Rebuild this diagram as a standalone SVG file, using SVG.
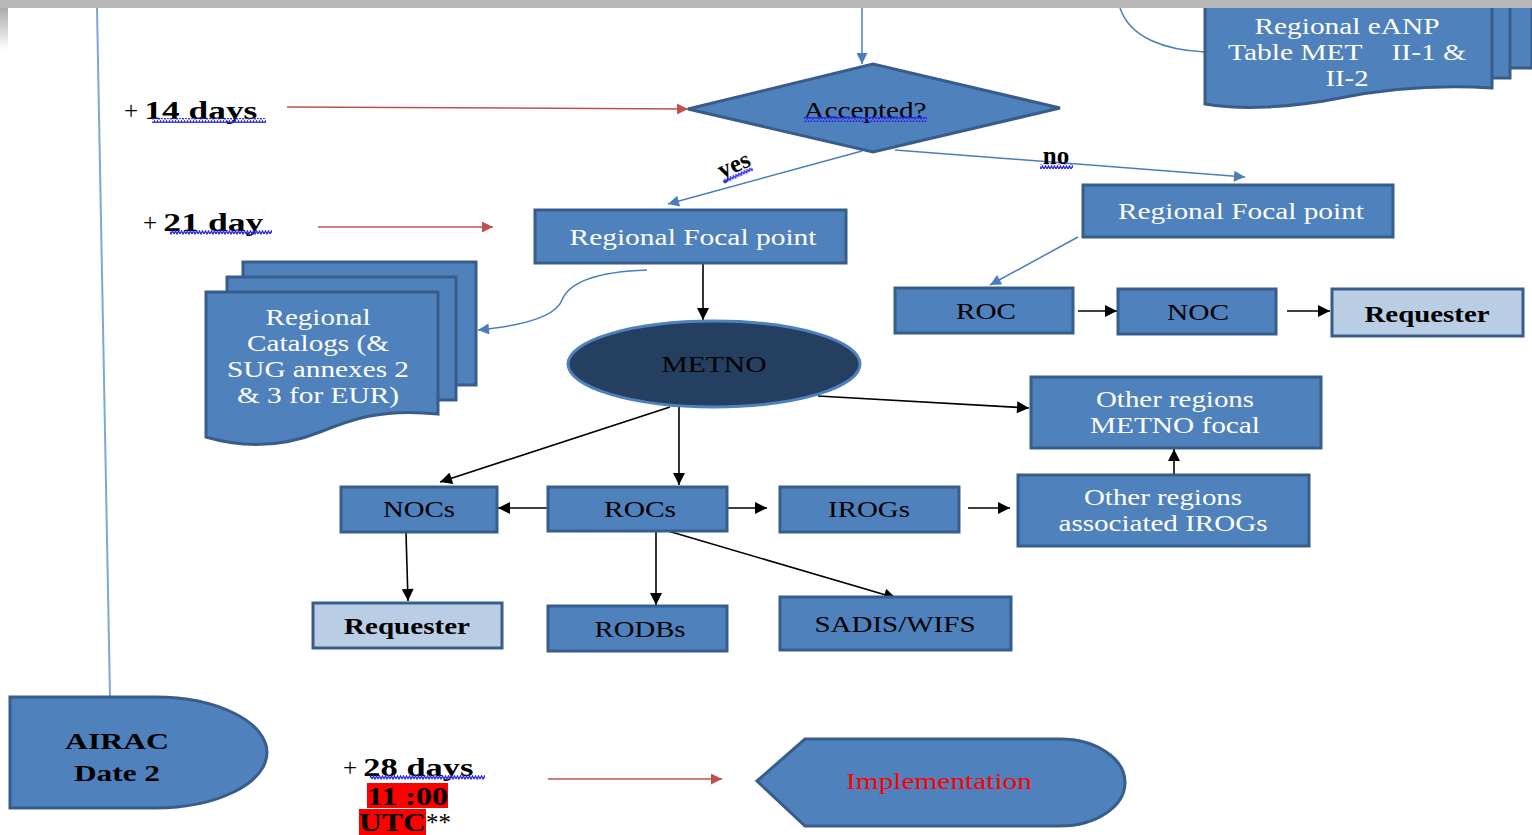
<svg xmlns="http://www.w3.org/2000/svg" width="1532" height="835" viewBox="0 0 1532 835">
<style>
.box{fill:#4f81bd;stroke:#385d8a;stroke-width:3}
.lt{fill:#b9cde5;stroke:#385d8a;stroke-width:3}
.t{font-family:"Liberation Serif","Times New Roman",serif;font-size:24px;text-anchor:middle}
.w{fill:#ffffff}
.k{fill:#000000}
.b{font-weight:bold}
.lbl{font-family:"Liberation Serif","Times New Roman",serif;font-size:25px;fill:#000}
.cb{stroke:#000;stroke-width:1.6;fill:none;marker-end:url(#ab)}
.cu{stroke:#4a7ebb;stroke-width:1.5;fill:none;marker-end:url(#au)}
.cr{stroke:#c0504d;stroke-width:1.5;fill:none;marker-end:url(#ar)}
.wave{fill:url(#wv)}
</style>
<defs>
<marker id="ab" viewBox="0 0 10 10" refX="10" refY="5" markerWidth="13" markerHeight="12" markerUnits="userSpaceOnUse" orient="auto"><path d="M0,0 L10,5 L0,10 Z" fill="#000"/></marker>
<marker id="au" viewBox="0 0 10 10" refX="10" refY="5" markerWidth="13" markerHeight="11" markerUnits="userSpaceOnUse" orient="auto"><path d="M0,0 L10,5 L0,10 Z" fill="#4a7ebb"/></marker>
<marker id="ar" viewBox="0 0 10 10" refX="10" refY="5" markerWidth="14" markerHeight="11" markerUnits="userSpaceOnUse" orient="auto"><path d="M0,0 L10,5 L0,10 Z" fill="#c0504d"/></marker>
<pattern id="wv" width="6" height="5" patternUnits="userSpaceOnUse"><path d="M0,4 L1.5,1 L3,4 L4.5,1 L6,4" stroke="#2a2ae8" stroke-width="1.3" fill="none"/></pattern>
<linearGradient id="gl" x1="0" y1="0" x2="0" y2="1"><stop offset="0" stop-color="#aaaaaa"/><stop offset="1" stop-color="#ffffff"/></linearGradient>
</defs>
<rect width="1532" height="835" fill="#ffffff"/>

<g id="connectors">
<line x1="97" y1="8" x2="110" y2="697" stroke="#7ea6d8" stroke-width="2"/>
<line class="cu" x1="862" y1="8" x2="862" y2="64"/>
<path d="M1120,8 C1130,38 1165,50 1205,52" stroke="#4a7ebb" stroke-width="1.5" fill="none"/>
<line class="cr" x1="287" y1="107" x2="688" y2="109"/>
<line class="cr" x1="318" y1="227" x2="493" y2="227"/>
<line class="cr" x1="548" y1="779" x2="722" y2="779"/>
<line class="cu" x1="862" y1="151" x2="668" y2="204"/>
<line class="cu" x1="895" y1="150" x2="1245" y2="177"/>
<line class="cu" x1="1078" y1="237" x2="990" y2="285"/>
<path class="cu" d="M647,270 C590,272 568,285 562,300 C555,318 520,326 478,330"/>
<line class="cb" x1="1078" y1="311" x2="1117" y2="311"/>
<line class="cb" x1="1287" y1="311" x2="1330" y2="311"/>
<line class="cb" x1="703" y1="263" x2="703" y2="320"/>
<line class="cb" x1="670" y1="407" x2="440" y2="482"/>
<line class="cb" x1="679" y1="407" x2="679" y2="485"/>
<line class="cb" x1="818" y1="396" x2="1029" y2="408"/>
<line class="cb" x1="1174" y1="474" x2="1174" y2="449"/>
<line class="cb" x1="548" y1="508" x2="498" y2="508"/>
<line class="cb" x1="727" y1="508" x2="767" y2="508"/>
<line class="cb" x1="968" y1="508" x2="1010" y2="508"/>
<line class="cb" x1="406" y1="533" x2="408" y2="601"/>
<line class="cb" x1="656" y1="532" x2="656" y2="605"/>
<line class="cb" x1="668" y1="531" x2="896" y2="598"/>
</g>

<g id="labels">
<text class="lbl" x="124" y="119"><tspan>+ </tspan><tspan class="b" textLength="113" lengthAdjust="spacingAndGlyphs">14  days</tspan></text>
<rect class="wave" x="152" y="118" width="114" height="5"/>
<text class="lbl" x="143" y="231"><tspan>+ </tspan><tspan class="b" textLength="100" lengthAdjust="spacingAndGlyphs">21  day</tspan></text>
<rect class="wave" x="170" y="230" width="102" height="5"/>
<text class="lbl" x="343" y="776"><tspan>+ </tspan><tspan class="b" textLength="110" lengthAdjust="spacingAndGlyphs">28  days</tspan></text>
<rect class="wave" x="370" y="775" width="115" height="5"/>
<rect x="367" y="783" width="81" height="25" fill="#ff0000"/>
<text class="lbl b" x="367" y="805" textLength="81" lengthAdjust="spacingAndGlyphs">11 :00</text>
<rect x="359" y="809" width="67" height="26" fill="#ff0000"/>
<text class="lbl" x="359" y="831"><tspan class="b" textLength="67" lengthAdjust="spacingAndGlyphs">UTC</tspan><tspan>**</tspan></text>
<text class="lbl b" x="0" y="0" transform="translate(737,172) rotate(-24)" text-anchor="middle" font-size="24">yes</text>
<rect class="wave" x="-16" y="0" width="32" height="5" transform="translate(737,173) rotate(-24)"/>
<text class="lbl b" x="1056" y="164" text-anchor="middle" font-size="24">no</text>
<rect class="wave" x="1040" y="164" width="33" height="5"/>
</g>

<g id="eanp">
<rect class="box" x="1240" y="-5" width="292" height="73"/>
<rect class="box" x="1222" y="-5" width="288" height="83"/>
<path class="box" d="M1205,-5 H1492 V88 C1430,84 1380,90 1340,98 C1290,108 1240,110 1205,104 Z"/>
<text class="t w" x="1347" y="34" textLength="185" lengthAdjust="spacingAndGlyphs">Regional eANP</text>
<text class="t w" x="1347" y="60" textLength="238" lengthAdjust="spacingAndGlyphs" style="white-space:pre">Table MET    II-1 &amp;</text>
<text class="t w" x="1347" y="86" textLength="43" lengthAdjust="spacingAndGlyphs">II-2</text>
</g>

<g id="accepted">
<path class="box" d="M688,109 L873,64 L1060,108 L873,152 Z"/>
<text class="t k" x="865" y="118" textLength="123" lengthAdjust="spacingAndGlyphs">Accepted?</text>
<rect class="wave" x="804" y="117" width="123" height="5"/>
</g>

<g id="rfp-left">
<rect class="box" x="535" y="210" width="311" height="53"/>
<text class="t w" x="693" y="245" textLength="247" lengthAdjust="spacingAndGlyphs">Regional Focal point</text>
</g>

<g id="rfp-right">
<rect class="box" x="1083" y="185" width="310" height="52"/>
<text class="t w" x="1241" y="219" textLength="246" lengthAdjust="spacingAndGlyphs">Regional Focal point</text>
</g>

<g id="roc">
<rect class="box" x="895" y="288" width="178" height="45"/>
<text class="t k" x="986" y="319" textLength="60" lengthAdjust="spacingAndGlyphs">ROC</text>
</g>
<g id="noc">
<rect class="box" x="1118" y="289" width="158" height="45"/>
<text class="t k" x="1198" y="320" textLength="62" lengthAdjust="spacingAndGlyphs">NOC</text>
</g>
<g id="requester-right">
<rect class="lt" x="1332" y="289" width="191" height="47"/>
<text class="t k b" x="1427" y="322" textLength="125" lengthAdjust="spacingAndGlyphs">Requester</text>
</g>

<g id="catalogs">
<rect class="box" x="243" y="262" width="233" height="123"/>
<rect class="box" x="227" y="277" width="229" height="123"/>
<path class="box" d="M206,292 H438 V414 C380,408 350,420 320,432 C280,448 240,447 206,437 Z"/>
<text class="t w" x="318" y="325" textLength="105" lengthAdjust="spacingAndGlyphs">Regional</text>
<text class="t w" x="318" y="351" textLength="142" lengthAdjust="spacingAndGlyphs">Catalogs (&amp;</text>
<text class="t w" x="318" y="377" textLength="182" lengthAdjust="spacingAndGlyphs">SUG annexes 2</text>
<text class="t w" x="318" y="403" textLength="162" lengthAdjust="spacingAndGlyphs">&amp; 3 for EUR)</text>
</g>

<g id="metno">
<ellipse cx="714" cy="364" rx="146" ry="43" fill="#243f60" stroke="#4f81bd" stroke-width="3"/>
<text class="t k" x="714" y="372" textLength="105" lengthAdjust="spacingAndGlyphs">METNO</text>
</g>

<g id="other-metno">
<rect class="box" x="1031" y="377" width="290" height="71"/>
<text class="t w" x="1175" y="407" textLength="158" lengthAdjust="spacingAndGlyphs">Other regions</text>
<text class="t w" x="1175" y="433" textLength="170" lengthAdjust="spacingAndGlyphs">METNO focal</text>
</g>
<g id="other-irogs">
<rect class="box" x="1018" y="475" width="291" height="71"/>
<text class="t w" x="1163" y="505" textLength="158" lengthAdjust="spacingAndGlyphs">Other regions</text>
<text class="t w" x="1163" y="531" textLength="209" lengthAdjust="spacingAndGlyphs">associated IROGs</text>
</g>

<g id="nocs">
<rect class="box" x="341" y="487" width="156" height="45"/>
<text class="t k" x="419" y="517" textLength="72" lengthAdjust="spacingAndGlyphs">NOCs</text>
</g>
<g id="rocs">
<rect class="box" x="548" y="487" width="179" height="44"/>
<text class="t k" x="640" y="517" textLength="72" lengthAdjust="spacingAndGlyphs">ROCs</text>
</g>
<g id="irogs">
<rect class="box" x="780" y="487" width="179" height="45"/>
<text class="t k" x="869" y="517" textLength="82" lengthAdjust="spacingAndGlyphs">IROGs</text>
</g>

<g id="requester-left">
<rect class="lt" x="313" y="603" width="189" height="45"/>
<text class="t k b" x="407" y="634" textLength="126" lengthAdjust="spacingAndGlyphs">Requester</text>
</g>
<g id="rodbs">
<rect class="box" x="548" y="606" width="179" height="45"/>
<text class="t k" x="640" y="637" textLength="91" lengthAdjust="spacingAndGlyphs">RODBs</text>
</g>
<g id="sadis">
<rect class="box" x="780" y="597" width="231" height="53"/>
<text class="t k" x="895" y="632" textLength="161" lengthAdjust="spacingAndGlyphs">SADIS/WIFS</text>
</g>

<g id="airac">
<path class="box" d="M10,697 H155 A112,55.5 0 0 1 155,808 H10 Z"/>
<text class="t k b" x="117" y="749" textLength="104" lengthAdjust="spacingAndGlyphs">AIRAC</text>
<text class="t k b" x="117" y="781" textLength="86" lengthAdjust="spacingAndGlyphs">Date 2</text>
</g>

<g id="implementation">
<path class="box" d="M757,781 L805,739 H1060 A65,43.5 0 0 1 1060,826 H805 Z"/>
<text class="t" x="939" y="789" fill="#ff0000" textLength="186" lengthAdjust="spacingAndGlyphs">Implementation</text>
</g>

<g id="frame">
<rect x="0" y="0" width="1532" height="8" fill="#b8b8b8"/>
<rect x="0" y="8" width="8" height="42" fill="url(#gl)"/>
</g>
</svg>
